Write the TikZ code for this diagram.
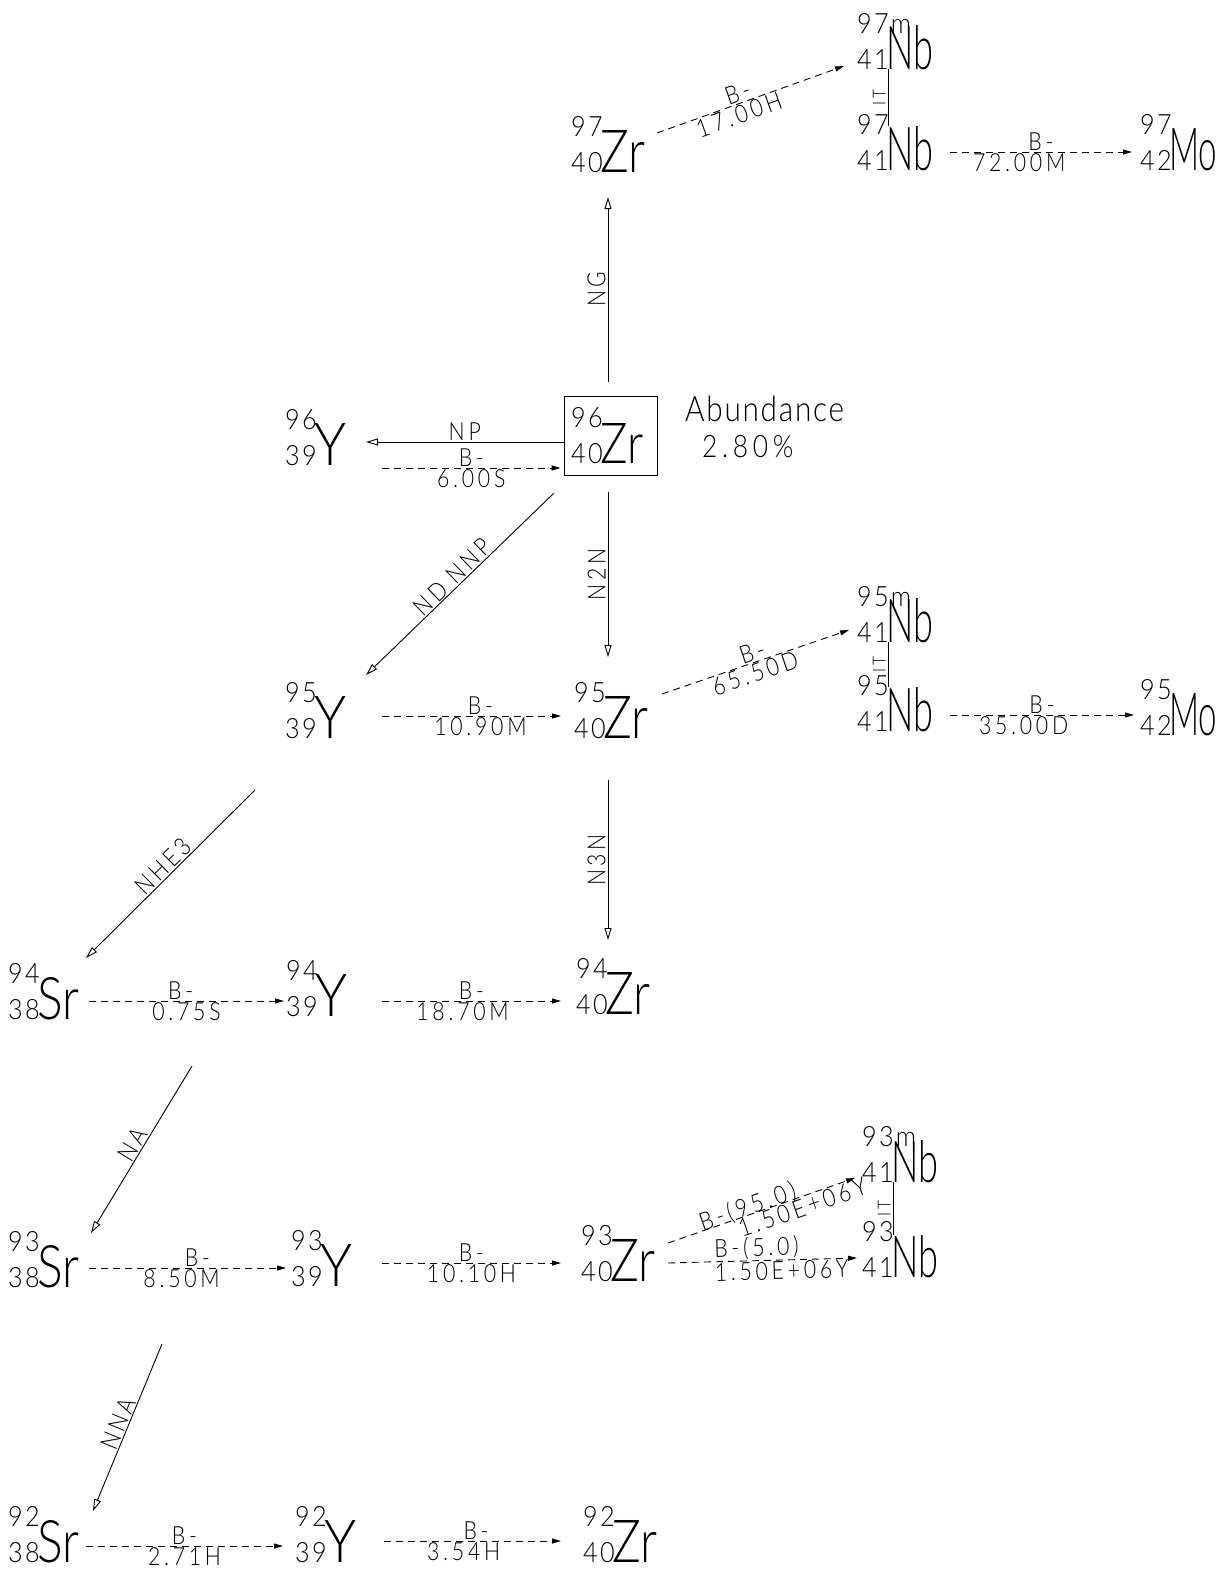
\documentclass[tikz,border=0pt]{standalone}
\usepackage{fontspec}
\usepackage{graphicx}
\usetikzlibrary{arrows.meta,calc}
\newfontfamily\symf{Lato Light}
\newfontfamily\numfam{Lato Light}[FakeStretch=0.9,LetterSpace=8]
\newfontfamily\labfam{Lato Light}[FakeStretch=0.85,LetterSpace=15]
\newfontfamily\abfam{Lato Light}[FakeStretch=0.85,LetterSpace=5]
\newcommand\symfont{\symf\fontsize{58}{58}\selectfont}
\newcommand\numfont{\numfam\fontsize{28}{28}\selectfont}
\newcommand\labfont{\labfam\fontsize{25}{25}\selectfont}
\newcommand\itfont{\labfam\fontsize{18}{18}\selectfont}
% #1 width, #2 height of the element symbol
\newcommand\nuc[5]{\rlap{\numfont #4}\raisebox{36pt}{\rlap{\numfont #3}}\hspace{29pt}\resizebox{#1pt}{#2pt}{\symfont #5}}
\tikzset{
  nucl/.style={anchor=base west, inner sep=0pt},
  decay/.style={line width=0.9pt, dash pattern=on 7pt off 5pt, -{Triangle[length=9pt,width=5pt]}},
  reac/.style={line width=0.9pt, -{Triangle[open,length=12pt,width=7pt]}},
  itline/.style={line width=0.9pt},
  lab/.style={font=\labfont, inner sep=1pt},
  vlab/.style={font=\labfont, inner sep=2pt, rotate=90, anchor=south},
  itlab/.style={font=\itfont, inner sep=2pt, rotate=90, anchor=south},
}
\begin{document}
\begin{tikzpicture}[x=1pt,y=-1pt]
\fill[white] (0,0) rectangle (1226,1585);
\useasboundingbox (0,0) rectangle (1226,1585);

% nuclides
\node[nucl] (zr97) at (571,172) {\nuc{45}{42}{97}{40}{Zr}};
\node[nucl] (nb97m) at (857,69) {\nuc{47}{44}{97m}{41}{Nb}};
\node[nucl] (nb97) at (857,170) {\nuc{47}{44}{97}{41}{Nb}};
\node[nucl] (mo97) at (1140,170) {\nuc{48}{42}{97}{42}{Mo}};

\node[draw, line width=0.9pt, minimum width=93pt, minimum height=79pt, inner sep=0pt] (zr96) at (610.5,435.5) {};
\node[nucl] (zr96t) at (571,463) {\nuc{43}{40}{96}{40}{Zr}};
\node[nucl] (y96) at (285,465) {\nuc{32}{42}{96}{39}{Y}};
\node[anchor=base west, inner sep=0pt, font=\abfam\fontsize{35}{35}\selectfont] (abund) at (685,421) {Abundance};
\node[anchor=base west, inner sep=0pt, font=\labfam\fontsize{31}{31}\selectfont] (abval) at (702,457) {2.80\%};

\node[nucl] (y95) at (285,738) {\nuc{32}{42}{95}{39}{Y}};
\node[nucl] (zr95) at (574,738) {\nuc{45}{42}{95}{40}{Zr}};
\node[nucl] (nb95m) at (857,642) {\nuc{47}{44}{95m}{41}{Nb}};
\node[nucl] (nb95) at (857,731) {\nuc{47}{44}{95}{41}{Nb}};
\node[nucl] (mo95) at (1140,735) {\nuc{48}{42}{95}{42}{Mo}};

\node[nucl] (sr94) at (8,1019) {\nuc{42}{42}{94}{38}{Sr}};
\node[nucl] (y94) at (286,1016) {\nuc{32}{42}{94}{39}{Y}};
\node[nucl] (zr94) at (576,1014) {\nuc{45}{42}{94}{40}{Zr}};

\node[nucl] (sr93) at (8,1287) {\nuc{42}{42}{93}{38}{Sr}};
\node[nucl] (y93) at (291,1286) {\nuc{32}{42}{93}{39}{Y}};
\node[nucl] (zr93) at (581,1281) {\nuc{45}{42}{93}{40}{Zr}};
\node[nucl] (nb93m) at (862,1182) {\nuc{47}{42}{93m}{41}{Nb}};
\node[nucl] (nb93) at (862,1277) {\nuc{47}{42}{93}{41}{Nb}};

\node[nucl] (sr92) at (8,1562) {\nuc{42}{42}{92}{38}{Sr}};
\node[nucl] (y92) at (295,1562) {\nuc{32}{42}{92}{39}{Y}};
\node[nucl] (zr92) at (583,1562) {\nuc{45}{42}{92}{40}{Zr}};

% reactions (solid)
\draw[reac] ($(zr96.north)+(-2.5,-14)$) -- node[vlab]{NG} ($(zr97.base west)+(37,25)$);
\draw[reac] ($(zr96.west)+(0,6.5)$) -- node[lab, above]{NP} ($(y96.base west)+(81,-23)$);
\draw[reac] ($(zr96.south)+(-2.5,17)$) -- node[vlab]{N2N} ($(zr95.base west)+(34,-81)$);
\draw[reac] ($(zr96.south west)+(-10,18)$) -- node[lab, above, sloped]{ND NNP} ($(y95.base west)+(81,-63)$);
\draw[reac] ($(zr95.base west)+(34,42)$) -- node[vlab]{N3N} ($(zr94.base west)+(32,-74)$);
\draw[reac] ($(y95.base west)+(-30,52)$) -- node[lab, above, sloped]{NHE3} ($(sr94.base west)+(78,-61)$);
\draw[reac] ($(sr94.base west)+(184,47)$) -- node[lab, above, sloped]{NA} ($(sr93.base west)+(83,-54)$);
\draw[reac] ($(sr93.base west)+(154,57)$) -- node[lab, above, sloped]{NNA} ($(sr92.base west)+(85,-51)$);

% decays (dashed)
\draw[decay] ($(zr97.base west)+(86,-39)$) -- node[lab, above, sloped, pos=0.45]{B-} node[lab, below, sloped, pos=0.42]{17.00H} ($(nb97m.base west)+(-13,-3)$);
\draw[decay] ($(nb97.base west)+(93,-18)$) -- node[lab, above]{B-} node[lab, below, pos=0.38]{72.00M} ($(mo97.base west)+(-8,-18)$);
\draw[itline] ($(nb97m.base west)+(31,0)$) -- node[itlab]{IT} ($(nb97.base west)+(31,-44)$);

\draw[decay] ($(y96.base west)+(97,3)$) -- node[lab, above]{B-} node[lab, below]{6.00S} ($(zr96.west)+(-3,32.5)$);

\draw[decay] ($(y95.base west)+(97,-22)$) -- node[lab, above, pos=0.55]{B-} node[lab, below, pos=0.55]{10.90M} ($(zr95.base west)+(-13,-22)$);
\draw[decay] ($(zr95.base west)+(88,-44)$) -- node[lab, above, sloped, pos=0.5]{B-} node[lab, below, sloped, pos=0.48]{65.50D} ($(nb95m.base west)+(-8,-12)$);
\draw[decay] ($(nb95.base west)+(93,-16)$) -- node[lab, above]{B-} node[lab, below, pos=0.4]{35.00D} ($(mo95.base west)+(-6,-20)$);
\draw[itline] ($(nb95m.base west)+(31,0)$) -- node[itlab]{IT} ($(nb95.base west)+(31,-44)$);

\draw[decay] ($(sr94.base west)+(81,-18)$) -- node[lab, above, pos=0.47]{B-} node[lab, below]{0.75S} ($(y94.base west)+(-2,-15)$);
\draw[decay] ($(y94.base west)+(96,-15)$) -- node[lab, above, pos=0.5]{B-} node[lab, below, pos=0.45]{18.70M} ($(zr94.base west)+(-15,-13)$);

\draw[decay] ($(sr93.base west)+(81,-19)$) -- node[lab, above, pos=0.55]{B-} node[lab, below, pos=0.47]{8.50M} ($(y93.base west)+(-5,-18)$);
\draw[decay] ($(y93.base west)+(91,-23)$) -- node[lab, above]{B-} node[lab, below]{10.10H} ($(zr93.base west)+(-20,-18)$);
\draw[decay] ($(zr93.base west)+(87,-38)$) -- node[lab, above=-5pt, sloped, pos=0.44]{B-(95.0)} node[lab, below, sloped, pos=0.7]{1.50E+06Y} ($(nb93m.base west)+(-7,-4)$);
\draw[decay] ($(zr93.base west)+(87,-18)$) -- node[lab, above, sloped, pos=0.47]{B-(5.0)} node[lab, below, sloped, pos=0.6]{1.50E+06Y} ($(nb93.base west)+(-5,-19)$);
\draw[itline] ($(nb93m.base west)+(31,0)$) -- node[itlab]{IT} ($(nb93.base west)+(31,-42)$);

\draw[decay] ($(sr92.base west)+(78,-16)$) -- node[lab, above, pos=0.5]{B-} node[lab, below, pos=0.5]{2.71H} ($(y92.base west)+(-12,-16)$);
\draw[decay] ($(y92.base west)+(89,-21)$) -- node[lab, above, pos=0.52]{B-} node[lab, below, pos=0.45]{3.54H} ($(zr92.base west)+(-22,-21)$);
\end{tikzpicture}
\end{document}
